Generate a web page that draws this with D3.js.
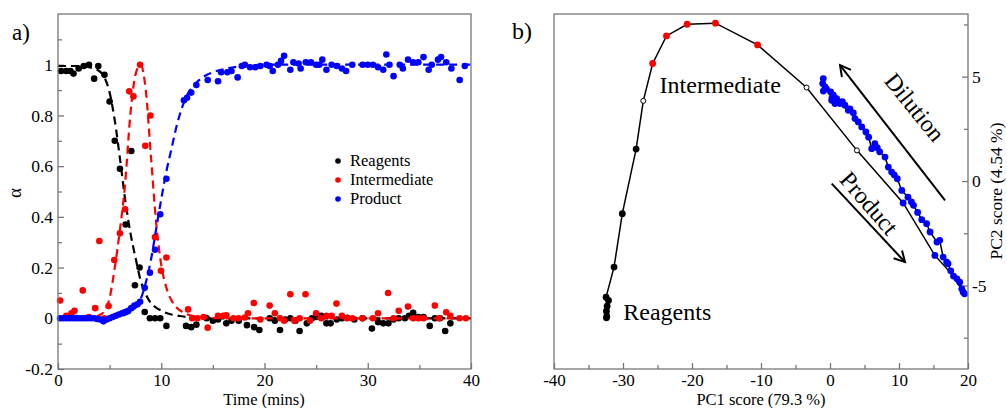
<!DOCTYPE html>
<html>
<head>
<meta charset="utf-8">
<script src="https://cdn.jsdelivr.net/npm/d3@7"></script>
<style>
body { margin: 0; background: #fff; }
text { font-family: "Liberation Serif", "DejaVu Serif", serif; fill: #000; }
</style>
</head>
<body>
<svg id="chart" width="1007" height="408"></svg>
<script>
//---- panel a data (time in mins, alpha)
var reagentsT = [0.3,0.8,1.2,1.5,2.0,2.5,3.0,3.5,3.9,4.5,5.0,5.5,6.0,6.55,7.1,7.45,7.9,8.4,8.9,9.4,9.9,10.5,
  12.4,12.9,13.4,14.4,15.0,15.5,16.3,16.8,17.5,18.3,19.0,19.5,20.5,21.0,21.5,22.0,22.5,23.0,23.4,24.1,24.6,
  25.0,25.5,26.0,26.4,27.0,27.5,28.0,28.7,29.5,30.4,31.0,31.5,32.0,32.5,33.0,33.6,34.0,34.4,34.9,35.4,36.0,
  36.5,37.0,37.5,38.0];
var reagentsA = [0.975,0.975,0.975,0.965,0.985,0.995,1.0,0.945,0.995,0.96,0.855,0.70,0.59,0.37,0.66,0.13,0.2,0.025,0.0,0.0,0.0,-0.03,
  -0.03,-0.035,-0.025,0.0,-0.01,-0.005,-0.02,-0.01,-0.01,-0.027,-0.035,-0.046,0.0,-0.01,-0.046,-0.005,0.0,-0.01,-0.05,-0.02,0.0,
  0.005,0.01,-0.02,-0.02,-0.005,0.0,0.002,-0.005,0.0,-0.04,-0.015,-0.02,-0.02,-0.005,0.0,0.0,0.01,0.022,0.005,0.005,-0.03,
  0.0,0.0,-0.05,-0.02];

var intermediateT = [0.2,0.8,1.3,1.6,2.4,3.0,3.6,4.0,4.5,4.9,5.45,6.0,6.5,6.9,7.3,7.95,8.45,8.95,9.4,9.97,10.5,
  12.6,13.0,13.5,14.1,14.5,15.5,16.0,16.3,17.0,17.5,18.1,18.4,18.97,19.6,20.5,21.0,21.5,21.9,22.5,22.9,23.4,
  23.97,24.4,25.0,25.5,26.0,26.5,26.97,27.5,28.0,28.5,29.5,30.5,31.0,31.97,32.5,33.0,33.9,34.4,34.9,35.4,36.5,
  36.9,37.6,38.0,38.9,39.5];
var intermediateA = [0.07,0.01,0.02,0.03,0.11,0.005,0.04,0.305,0.0,0.048,0.23,0.335,0.43,0.895,0.875,1.0,0.68,0.80,0.32,0.187,0.24,
  0.035,0.0,0.0,0.005,-0.037,0.01,0.01,0.012,0.0,0.0,0.003,0.02,0.06,-0.005,0.05,0.02,0.0,-0.01,0.095,-0.01,0.0,
  0.095,-0.01,0.02,0.0,0.01,0.01,0.058,0.01,0.0,0.0,0.0,0.0,0.02,0.1,0.0,0.03,0.046,0.0,0.0,0.0,0.05,
  0.0,0.024,0.01,0.0,0.0];

var productT = [0.2,0.5,0.8,1.1,1.4,1.7,2.0,2.3,2.6,2.9,3.2,3.5,3.8,4.1,4.4,4.7,5.0,5.3,5.6,5.9,6.2,6.5,6.8,7.1,7.4,7.7,7.95,
  8.4,8.9,9.4,9.9,10.5,12.2,12.5,12.9,13.4,14.5,15.5,15.8,16.4,16.8,17.4,17.8,18.1,18.6,19.1,19.6,20.2,20.5,20.8,
  21.3,21.6,21.9,22.5,22.8,23.3,23.5,24.0,24.5,25.0,25.3,25.6,26.0,26.5,27.0,27.5,27.9,28.5,29.5,30.0,30.5,31.0,
  31.5,31.8,32.1,32.5,33.1,33.4,33.9,34.4,34.9,35.4,35.9,36.2,36.8,37.1,37.6,38.1,38.9,39.4];
var productA = [0,0,0,0,0,0,0,0,0,0,0,0,-0.003,-0.005,-0.012,-0.005,0.0,0.005,0.01,0.015,0.02,0.025,0.03,0.04,0.05,0.055,0.065,
  0.12,0.18,0.27,0.41,0.55,0.86,0.87,0.89,0.92,0.94,0.935,0.97,0.97,0.975,0.95,0.995,1.0,0.99,0.99,0.995,1.0,0.995,0.975,
  1.0,1.015,1.035,0.98,1.01,1.005,0.985,1.01,1.01,1.0,1.0,1.02,0.98,1.0,0.995,0.985,0.975,1.0,1.0,1.0,1.0,0.99,
  0.98,1.04,1.0,0.955,1.0,0.985,1.02,1.01,1.01,1.03,0.98,1.0,1.02,1.03,1.01,0.985,0.94,0.995];

// fitted curves
var fitT = [0,1,2,3,3.5,4,4.5,5,5.5,6,6.5,7,7.5,8,8.5,9,9.5,10,10.5,11,11.5,12,12.5,13,14,15,16,17,18,20,25,30,35,40];
var reagentsFit = [0.995,0.995,0.995,0.99,0.985,0.975,0.95,0.89,0.78,0.63,0.47,0.34,0.24,0.15,0.095,0.06,0.042,0.03,0.021,0.015,
  0.011,0.008,0.005,0.003,0.001,0,0,0,0,0,0,0,0,0];
var intermediateFit = [0,0,0,0.003,0.006,0.012,0.028,0.08,0.2,0.35,0.53,0.8,0.96,1.0,0.9,0.64,0.38,0.21,0.12,0.07,
  0.042,0.026,0.016,0.01,0.004,0.001,0,0,0,0,0,0,0,0];
var productFit = [0,0,0,0,0,0.001,0.002,0.003,0.005,0.008,0.014,0.024,0.042,0.075,0.14,0.23,0.35,0.47,0.58,0.67,
  0.76,0.83,0.88,0.91,0.95,0.97,0.982,0.99,0.995,1,1,1,1,1];

var seriesNames = ['Reagents', 'Intermediate', 'Product'];
var seriesColors = ['#000000', '#ff0000', '#0000ff'];

var timeTicks = [0, 10, 20, 30, 40];
var timeMinor = [5, 15, 25, 35];
var alphaTicks = [-0.2, 0, 0.2, 0.4, 0.6, 0.8, 1];
var alphaMinor = [-0.1, 0.1, 0.3, 0.5, 0.7, 0.9, 1.1];

//---- panel b data (PCA scores, in time order). k=reagent, o=open, r=intermediate, b=product
var pcPhase = ['k','k','k','k','k','k','k','k','k','o','r','r','r','r','r','o','o',
  'b','b','b','b','b','b','b','b','b','b','b','b','b','b','b','b','b','b','b','b',
  'b','b','b','b','b','b','b','b','b','b','b','b','b','b','b','b','b','b','b','b','b','b','b',
  'b','b','b','b','b','b','b','b','b','b'];
var pc1 = [-32.40,-32.35,-32.40,-32.30,-32.10,-32.45,-31.30,-30.10,-28.10,-27.06,-25.70,-23.70,-20.70,-16.60,-10.50,-3.40,3.90,
  10.60,15.20,17.90,19.30,19.50,19.10,18.80,18.40,17.50,17.10,16.90,16.40,15.90,15.50,14.50,14.00,13.30,12.70,12.10,11.80,
  11.30,10.40,9.75,9.30,8.93,8.45,7.97,7.20,6.85,6.50,6.04,5.60,5.20,4.60,4.10,3.62,3.38,2.90,2.65,2.17,1.80,1.45,0.97,
  0.72,0.48,0.30,0.24,0.10,-0.50,-0.72,-0.97,-1.06,-0.97];
var pc2 = [-6.55,-6.47,-6.23,-5.99,-5.72,-5.56,-4.12,-1.56,1.53,3.84,5.63,6.95,7.51,7.56,6.52,4.48,1.47,
  -1.05,-3.56,-4.55,-5.32,-5.40,-5.16,-4.84,-4.68,-4.30,-3.96,-3.88,-3.64,-2.84,-2.92,-2.44,-2.04,-1.85,-1.50,-1.16,-1.00,
  -0.77,-0.45,0.11,0.30,0.43,0.67,1.15,1.40,1.60,1.79,1.55,2.10,2.35,2.59,2.83,2.99,3.26,3.45,3.39,3.63,3.80,3.71,3.95,
  3.71,4.11,4.00,3.87,4.27,4.40,4.51,4.31,4.67,4.91];

var pc1Ticks = [-40, -30, -20, -10, 0, 10, 20];
var pc1Minor = [-35, -25, -15, -5, 5, 15];
var pc2Ticks = [-5, 0, 5];
var pc2Minor = [-7.5, -2.5, 2.5, 7.5];

// annotations in score units
var arrows = [
  { name: 'Dilution', from: [16.67, -0.93], to: [1.45, 5.55] },
  { name: 'Product',  from: [0.25, -0.12],  to: [10.87, -3.88] }
];
var arrowLabels = [
  { text: 'Dilution', at: [12.3, 3.55], rot: 51 },
  { text: 'Product',  at: [5.7, -1.05], rot: 49 }
];
var pointLabels = [
  { text: 'Intermediate', at: [-24.7, 4.24] },
  { text: 'Reagents',     at: [-29.96, -6.63] }
];

//---- Draw
var svg = d3.select('#chart');
var frameColor = '#777';

var styleAxis = function(g, size) {
  g.select('.domain').remove();
  g.selectAll('line').attr('stroke', frameColor).attr('stroke-width', 1.3);
  g.selectAll('text').style('font-size', size + 'px').attr('fill', '#000')
    .style('font-family', '"Liberation Serif", serif');
};

var fmt = function(d) { return String(+d.toFixed(1)); };

//================ panel a
var xA = d3.scaleLinear().domain([0, 40]).range([58, 471]);
var yA = d3.scaleLinear().domain([-0.2, 1.2]).range([369, 14]);
var gA = svg.append('g').attr('class', 'panel-a');

gA.append('g').attr('transform', 'translate(0,369)')
  .call(d3.axisBottom(xA).tickValues(timeTicks).tickSize(-6).tickPadding(5).tickFormat(fmt))
  .call(styleAxis, 17);
gA.append('g').attr('transform', 'translate(0,369)')
  .call(d3.axisBottom(xA).tickValues(timeMinor).tickSize(-4).tickFormat(''))
  .call(styleAxis, 17);
gA.append('g').attr('transform', 'translate(58,0)')
  .call(d3.axisLeft(yA).tickValues(alphaTicks).tickSize(-6).tickPadding(5).tickFormat(fmt))
  .call(styleAxis, 17.5);
gA.append('g').attr('transform', 'translate(58,0)')
  .call(d3.axisLeft(yA).tickValues(alphaMinor).tickSize(-4).tickFormat(''))
  .call(styleAxis, 17.5);

var seriesA = [
  { t: reagentsT, a: reagentsA, fit: reagentsFit },
  { t: intermediateT, a: intermediateA, fit: intermediateFit },
  { t: productT, a: productA, fit: productFit }
];

var fitLine = d3.line()
  .x(function(d) { return xA(d[0]); })
  .y(function(d) { return yA(d[1]); })
  .curve(d3.curveMonotoneX);

seriesA.forEach(function(s, i) {
  var pts = s.t.map(function(t, j) { return [t, s.a[j]]; });
  gA.append('g').selectAll('circle').data(pts).enter()
    .append('circle')
    .attr('cx', function(d) { return xA(d[0]); })
    .attr('cy', function(d) { return yA(d[1]); })
    .attr('r', 3.3)
    .attr('fill', seriesColors[i]);
  gA.append('path')
    .datum(fitT.map(function(t, j) { return [t, s.fit[j]]; }))
    .attr('d', fitLine)
    .attr('fill', 'none')
    .attr('stroke', seriesColors[i])
    .attr('stroke-width', 2.2)
    .attr('stroke-dasharray', '8,5');
});

gA.append('rect').attr('x', 58).attr('y', 14).attr('width', 413).attr('height', 355)
  .attr('fill', 'none').attr('stroke', frameColor).attr('stroke-width', 1.3);

// legend
var legend = gA.selectAll('g.legend').data(seriesNames).enter()
  .append('g').attr('class', 'legend')
  .attr('transform', function(d, i) { return 'translate(338,' + (161 + i * 19) + ')'; });
legend.append('circle').attr('r', 2.8).attr('fill', function(d, i) { return seriesColors[i]; });
legend.append('text').attr('x', 12).attr('y', 5).style('font-size', '16.5px').text(function(d) { return d; });

gA.append('text').attr('x', 264).attr('y', 405).attr('text-anchor', 'middle')
  .style('font-size', '16.5px').text('Time (mins)');
gA.append('text').attr('transform', 'translate(21,193) rotate(-90)').attr('text-anchor', 'middle')
  .style('font-size', '19px').text('α');
gA.append('text').attr('x', 12).attr('y', 40).style('font-size', '23px').text('a)');

//================ panel b
var xB = d3.scaleLinear().domain([-40, 20]).range([554, 968]);
var yB = d3.scaleLinear().domain([-9, 8]).range([369, 14]);
var gB = svg.append('g').attr('class', 'panel-b');

gB.append('g').attr('transform', 'translate(0,369)')
  .call(d3.axisBottom(xB).tickValues(pc1Ticks).tickSize(-6).tickPadding(5).tickFormat(fmt))
  .call(styleAxis, 17);
gB.append('g').attr('transform', 'translate(0,369)')
  .call(d3.axisBottom(xB).tickValues(pc1Minor).tickSize(-4).tickFormat(''))
  .call(styleAxis, 17);
gB.append('g').attr('transform', 'translate(968,0)')
  .call(d3.axisRight(yB).tickValues(pc2Ticks).tickSize(-6).tickPadding(4).tickFormat(fmt))
  .call(styleAxis, 17.5);
gB.append('g').attr('transform', 'translate(968,0)')
  .call(d3.axisRight(yB).tickValues(pc2Minor).tickSize(-4).tickFormat(''))
  .call(styleAxis, 17.5);

var traj = pc1.map(function(v, i) { return { x: v, y: pc2[i], p: pcPhase[i] }; });

gB.append('path')
  .datum(traj)
  .attr('d', d3.line().x(function(d) { return xB(d.x); }).y(function(d) { return yB(d.y); }))
  .attr('fill', 'none').attr('stroke', '#000').attr('stroke-width', 1.5);

var markFill = { k: '#000000', r: '#ff0000', b: '#0000ff', o: '#ffffff' };
gB.append('g').selectAll('circle').data(traj).enter()
  .append('circle')
  .attr('cx', function(d) { return xB(d.x); })
  .attr('cy', function(d) { return yB(d.y); })
  .attr('r', function(d) { return d.p === 'o' ? 2.5 : 3.4; })
  .attr('fill', function(d) { return markFill[d.p]; })
  .attr('stroke', function(d) { return d.p === 'o' ? '#000' : 'none'; })
  .attr('stroke-width', 1);

// arrows with open heads
arrows.forEach(function(a) {
  var x1 = xB(a.from[0]), y1 = yB(a.from[1]), x2 = xB(a.to[0]), y2 = yB(a.to[1]);
  var ang = Math.atan2(y2 - y1, x2 - x1);
  var len = 12, spread = 0.5;
  var h1 = [x2 - len * Math.cos(ang - spread), y2 - len * Math.sin(ang - spread)];
  var h2 = [x2 - len * Math.cos(ang + spread), y2 - len * Math.sin(ang + spread)];
  gB.append('line').attr('x1', x1).attr('y1', y1).attr('x2', x2).attr('y2', y2)
    .attr('stroke', '#000').attr('stroke-width', 2);
  gB.append('path').attr('d', 'M' + h1 + 'L' + x2 + ',' + y2 + 'L' + h2)
    .attr('fill', 'none').attr('stroke', '#000').attr('stroke-width', 2);
});

arrowLabels.forEach(function(l) {
  gB.append('text')
    .attr('transform', 'translate(' + xB(l.at[0]) + ',' + yB(l.at[1]) + ') rotate(' + l.rot + ')')
    .attr('text-anchor', 'middle').attr('dy', '0.35em')
    .style('font-size', '24px').text(l.text);
});
pointLabels.forEach(function(l) {
  gB.append('text').attr('x', xB(l.at[0])).attr('y', yB(l.at[1]))
    .style('font-size', '24px').text(l.text);
});

gB.append('rect').attr('x', 554).attr('y', 14).attr('width', 414).attr('height', 355)
  .attr('fill', 'none').attr('stroke', frameColor).attr('stroke-width', 1.3);

gB.append('text').attr('x', 761).attr('y', 405).attr('text-anchor', 'middle')
  .style('font-size', '16.5px').text('PC1 score (79.3 %)');
gB.append('text').attr('transform', 'translate(1002,191) rotate(-90)').attr('text-anchor', 'middle')
  .style('font-size', '17.5px').text('PC2 score (4.54 %)');
gB.append('text').attr('x', 512).attr('y', 39).style('font-size', '24px').text('b)');
</script>
</body>
</html>
